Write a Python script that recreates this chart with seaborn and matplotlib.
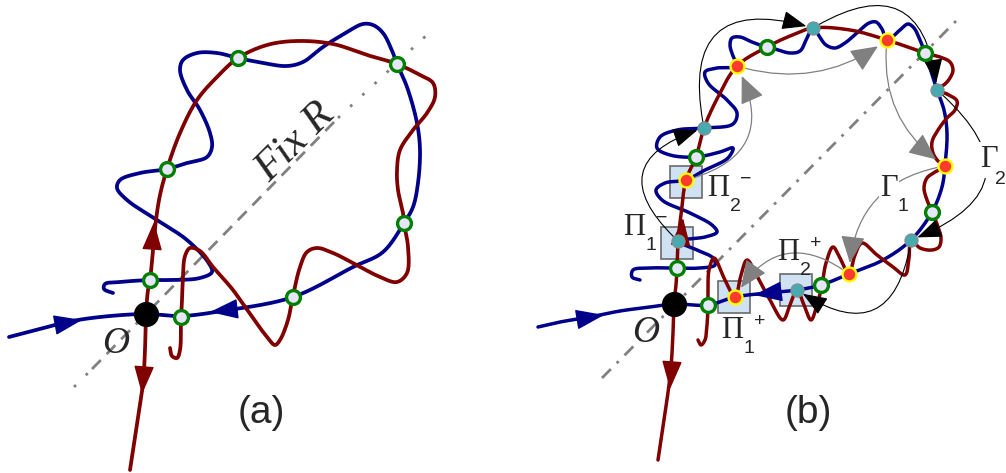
import numpy as np
import matplotlib.pyplot as plt
import seaborn as sns
from matplotlib.patches import Rectangle

# all coordinates are pixel positions on the 1006x473 canvas (y grows downward)

# ---- panel (a): manifold control points ----
a_blue_x = [9, 40, 67, 100, 146, 181, 222, 293, 353, 383, 404, 413, 418, 420, 417, 407, 397,
            393, 383, 373, 363, 347, 323, 303, 287, 263, 238, 217, 197, 183, 180, 187, 200,
            210, 212, 207, 187, 167, 140, 120, 117, 127, 157, 187, 208, 212, 200, 173, 150,
            120, 105, 104, 113]
a_blue_y = [337, 329, 322, 317, 314, 316, 311, 297, 267, 252, 223, 207, 183, 150, 123, 87, 64,
            53, 33, 25, 24, 32, 47, 62, 66, 63, 58, 53, 53, 60, 70, 90, 110,
            133, 147, 157, 163, 169, 173, 180, 188, 200, 220, 240, 262, 272, 278, 280, 280,
            282, 284, 289, 293]

a_red_x = [130, 138, 143, 145, 146, 148, 150, 153, 156, 160, 167, 180, 197, 217, 238, 267, 297,
           333, 367, 397, 420, 433, 435, 427, 413, 400, 397, 398, 403, 404, 408, 407, 397,
           380, 353, 333, 317, 307, 300, 293, 288, 280, 275, 267, 253, 233, 213, 200, 190,
           185, 183, 182, 181, 180, 177, 172, 170]
a_red_y = [470, 417, 383, 350, 314, 290, 280, 250, 220, 195, 169, 133, 100, 77, 58, 45, 41,
           44, 55, 64, 75, 83, 97, 113, 130, 150, 170, 190, 213, 223, 247, 273, 282,
           277, 263, 253, 248, 252, 267, 296, 320, 340, 345, 337, 318, 290, 267, 251, 248,
           256, 275, 300, 317, 350, 358, 356, 348]

a_green_x = [150, 167, 238, 397, 404, 293, 181]
a_green_y = [280, 169, 58, 64, 223, 297, 317]

# ---- panel (b): manifold control points ----
b_blue_x = [538, 560, 590, 620, 650, 674, 708, 735, 767, 797, 821, 849, 883, 911, 932, 942,
            945, 947, 944, 937, 930, 925, 920, 914, 908, 900, 887, 882, 876, 869, 858, 845,
            835, 826, 819, 813, 807, 800, 790, 775, 766, 752, 740, 732, 730, 733, 737, 717,
            705, 708, 727, 737, 733, 704, 677, 660, 657, 670, 696, 720, 733, 728, 705, 686,
            665, 656, 662, 690, 712, 717, 705, 678, 697, 713, 715, 700, 677, 650, 633, 632, 640]
b_blue_y = [327, 322, 317, 311, 307, 304, 305, 297, 293, 290, 285, 274, 260, 240, 212, 187,
            166, 133, 110, 90, 68, 53, 40, 28, 24, 30, 40, 29, 22, 23, 32, 43,
            48, 45, 36, 28, 38, 51, 53, 49, 47, 42, 37, 38, 45, 56, 66, 68,
            72, 83, 100, 113, 124, 128, 130, 137, 148, 155, 157, 152, 148, 158, 170, 180,
            183, 190, 200, 213, 225, 232, 237, 241, 250, 258, 265, 268, 268, 268, 270, 277, 280]

b_red_x = [658, 667, 671, 673, 674, 676, 677, 678, 681, 686, 696, 704, 718, 737, 767, 790,
           813, 850, 887, 925, 940, 950, 953, 950, 945, 937, 947, 957, 955, 947, 938, 932,
           933, 938, 945, 935, 927, 924, 927, 932, 937, 941, 939, 932, 920, 911, 909, 905,
           893, 877, 862, 855, 849, 840, 833, 826, 822, 817, 811, 804, 797, 790, 783, 770,
           758, 747, 741, 735, 725, 714, 709, 708, 708, 707, 705, 701, 698]
b_red_y = [460, 400, 367, 333, 304, 285, 268, 241, 215, 180, 157, 128, 97, 66, 47, 36,
           28, 30, 40, 53, 57, 62, 70, 78, 84, 90, 94, 101, 110, 118, 130, 142,
           153, 161, 166, 172, 178, 188, 200, 212, 224, 238, 247, 250, 248, 240, 258, 275,
           267, 255, 243, 255, 274, 258, 247, 263, 285, 305, 320, 305, 290, 305, 320, 300,
           278, 260, 275, 297, 280, 258, 270, 290, 305, 325, 340, 345, 340]

b_green_x = [708, 677, 696, 767, 925, 932, 821]
b_green_y = [305, 268, 157, 47, 53, 212, 285]
b_reddot_x = [735, 686, 737, 887, 945, 849]
b_reddot_y = [297, 180, 66, 40, 166, 274]
b_cyan_x = [678, 704, 813, 937, 911, 797]
b_cyan_y = [241, 128, 28, 90, 240, 290]
pi_box_x = [686, 677, 734, 796]
pi_box_y = [182, 243, 297, 290]
saddle_x = [146, 674]
saddle_y = [314, 304]

# direction arrows on the manifolds: (base, tip, colour)
flow_arrows = [((55, 325), (82, 320), 'blue'), ((236, 309), (210, 312), 'blue'),
               ((152, 251), (154, 222), 'red'), ((144, 368), (142, 394), 'red'),
               ((580, 319), (604, 315), 'blue'), ((777, 292), (754, 295), 'blue'),
               ((681, 240), (683, 218), 'red'), ((672, 362), (670, 389), 'red')]

# Gamma_2 chain between cyan points, Gamma_1 chain between red points
gamma2 = [(0, 1), (1, 2), (2, 3), (3, 4), (4, 5)]
gamma2_rad = [-0.85, -0.82, -0.78, -0.82, -0.78]
gamma1 = [(1, 2), (2, 3), (3, 4), (4, 5), (5, 0)]
gamma1_rad = [0.62, 0.25, 0.3, 0.4, 0.55]

RED = '#800000'
BLUE = '#00008a'


def smooth(xs, ys, n=24):
    p = np.column_stack([xs, ys]).astype(float)
    p = np.vstack([2 * p[0] - p[1], p, 2 * p[-1] - p[-2]])
    out = []
    for i in range(1, len(p) - 2):
        p0, p1, p2, p3 = p[i - 1], p[i], p[i + 1], p[i + 2]
        t0 = 0.0
        t1 = t0 + np.linalg.norm(p1 - p0) ** 0.5 + 1e-9
        t2 = t1 + np.linalg.norm(p2 - p1) ** 0.5 + 1e-9
        t3 = t2 + np.linalg.norm(p3 - p2) ** 0.5 + 1e-9
        t = np.linspace(t1, t2, n)[:, None]
        a1 = (t1 - t) / (t1 - t0) * p0 + (t - t0) / (t1 - t0) * p1
        a2 = (t2 - t) / (t2 - t1) * p1 + (t - t1) / (t2 - t1) * p2
        a3 = (t3 - t) / (t3 - t2) * p2 + (t - t2) / (t3 - t2) * p3
        b1 = (t2 - t) / (t2 - t0) * a1 + (t - t0) / (t2 - t0) * a2
        b2 = (t3 - t) / (t3 - t1) * a2 + (t - t1) / (t3 - t1) * a3
        c = (t2 - t) / (t2 - t1) * b1 + (t - t1) / (t2 - t1) * b2
        out.append(c)
    c = np.vstack(out)
    return c[:, 0], c[:, 1]


sns.set_style('white')
plt.rcParams['font.family'] = ['Liberation Serif', 'DejaVu Serif']

fig = plt.figure(figsize=(10.06, 4.73), dpi=100)
ax = fig.add_axes([0, 0, 1, 1])
ax.set_xlim(0, 1006)
ax.set_ylim(473, 0)
ax.axis('off')

# Fix R symmetry lines
ax.plot([74, 92], [387, 369], color='gray', lw=2, ls=(0, (1, 5)), zorder=1)
ax.plot([92, 338], [369, 118], color='gray', lw=2, ls=(0, (4.5, 3)), zorder=1)
ax.plot([338, 430], [118, 32], color='gray', lw=2, ls=(0, (1, 5)), zorder=1)
ax.plot([602, 957], [378, 20], color='gray', lw=2, ls=(0, (4.5, 3, 1, 3)), zorder=1)

# Pi boxes
for bx, by in zip(pi_box_x, pi_box_y):
    ax.add_patch(Rectangle((bx - 16, by - 16), 32, 32, facecolor='#cfe2f3',
                           edgecolor='#6b6b6b', lw=1.2, zorder=2))

# manifolds
for xs, ys, col, lw in [(a_blue_x, a_blue_y, BLUE, 2.7), (a_red_x, a_red_y, RED, 2.7),
                        (b_blue_x, b_blue_y, BLUE, 2.5), (b_red_x, b_red_y, RED, 2.5)]:
    sx, sy = smooth(xs, ys)
    sns.lineplot(x=sx, y=sy, sort=False, estimator=None, color=col, linewidth=lw,
                 ax=ax, zorder=4, solid_capstyle='round')

for base, tip, c in flow_arrows:
    col = BLUE if c == 'blue' else RED
    ax.annotate('', xy=tip, xytext=base, zorder=5,
                arrowprops=dict(arrowstyle='-|>,head_length=0.9,head_width=0.32',
                                color=col, lw=1, shrinkA=0, shrinkB=0, mutation_scale=20))

# Gamma_2 (black, outside) and Gamma_1 (gray, inside)
for (i, j), r in zip(gamma2, gamma2_rad):
    ax.annotate('', xy=(b_cyan_x[j], b_cyan_y[j]), xytext=(b_cyan_x[i], b_cyan_y[i]), zorder=5,
                arrowprops=dict(arrowstyle='-|>,head_length=0.9,head_width=0.35',
                                color='black', lw=0.8, shrinkA=4, shrinkB=5,
                                mutation_scale=17, connectionstyle=f'arc3,rad={r}'))
for (i, j), r in zip(gamma1, gamma1_rad):
    ax.annotate('', xy=(b_reddot_x[j], b_reddot_y[j]), xytext=(b_reddot_x[i], b_reddot_y[i]),
                zorder=5,
                arrowprops=dict(arrowstyle='-|>,head_length=0.9,head_width=0.4',
                                color='gray', lw=0.9, shrinkA=6, shrinkB=8,
                                mutation_scale=19, connectionstyle=f'arc3,rad={r}'))

# white gaps in the arcs where the Gamma labels sit
ax.add_patch(Rectangle((879, 174), 20, 28, facecolor='white', edgecolor='none', zorder=5.5))
ax.add_patch(Rectangle((978, 142), 22, 36, facecolor='white', edgecolor='none', zorder=5.5))

# intersection points
sns.scatterplot(x=a_green_x + b_green_x, y=a_green_y + b_green_y, s=100, color='#e6e6fa',
                edgecolor='#008000', linewidth=2.4, ax=ax, zorder=6, legend=False)
sns.scatterplot(x=b_reddot_x, y=b_reddot_y, s=100, color='#ff3b30', edgecolor='#ffff00',
                linewidth=1.7, ax=ax, zorder=6, legend=False)
sns.scatterplot(x=b_cyan_x, y=b_cyan_y, s=90, color='#47aab0', edgecolor='#8a8a8a',
                linewidth=0.8, ax=ax, zorder=6, legend=False)
sns.scatterplot(x=saddle_x, y=saddle_y, s=330, color='black', edgecolor='black',
                linewidth=0, ax=ax, zorder=7, legend=False)

# labels
sans = ['Liberation Sans', 'DejaVu Sans']
ax.text(295, 142, 'Fix R', fontsize=31, style='italic', rotation=45, ha='center',
        va='center', zorder=8)
ax.text(116, 344, 'O', fontsize=27, style='italic', ha='center', va='center', zorder=8)
ax.text(646, 333, 'O', fontsize=27, style='italic', ha='center', va='center', zorder=8)
ax.text(261, 413, '(a)', fontsize=28, family=sans, ha='center', va='center', zorder=8)
ax.text(808, 413, '(b)', fontsize=28, family=sans, ha='center', va='center', zorder=8)

for (px, py), sub, sup in [((718, 188), '2', '\u2212'), ((634, 227), '1', '\u2212'),
                           ((788, 252), '2', '+'), ((732, 330), '1', '+')]:
    ax.text(px, py, '\u03a0', fontsize=22, ha='center', va='center', zorder=8)
    ax.text(px + 17, py + 18, sub, fontsize=14, family=sans, ha='center', va='center', zorder=8)
    ax.text(px + 28, py - 9, sup, fontsize=14, family=sans, ha='center', va='center', zorder=8)

ax.text(889, 188, '\u0393', fontsize=22, ha='center', va='center', zorder=8)
ax.text(903, 206, '1', fontsize=14, family=sans, ha='center', va='center', zorder=8)
ax.text(989, 159, '\u0393', fontsize=22, ha='center', va='center', zorder=8)
ax.text(1000, 179, '2', fontsize=14, family=sans, ha='center', va='center', zorder=8)

fig.savefig('out.png', dpi=100)
